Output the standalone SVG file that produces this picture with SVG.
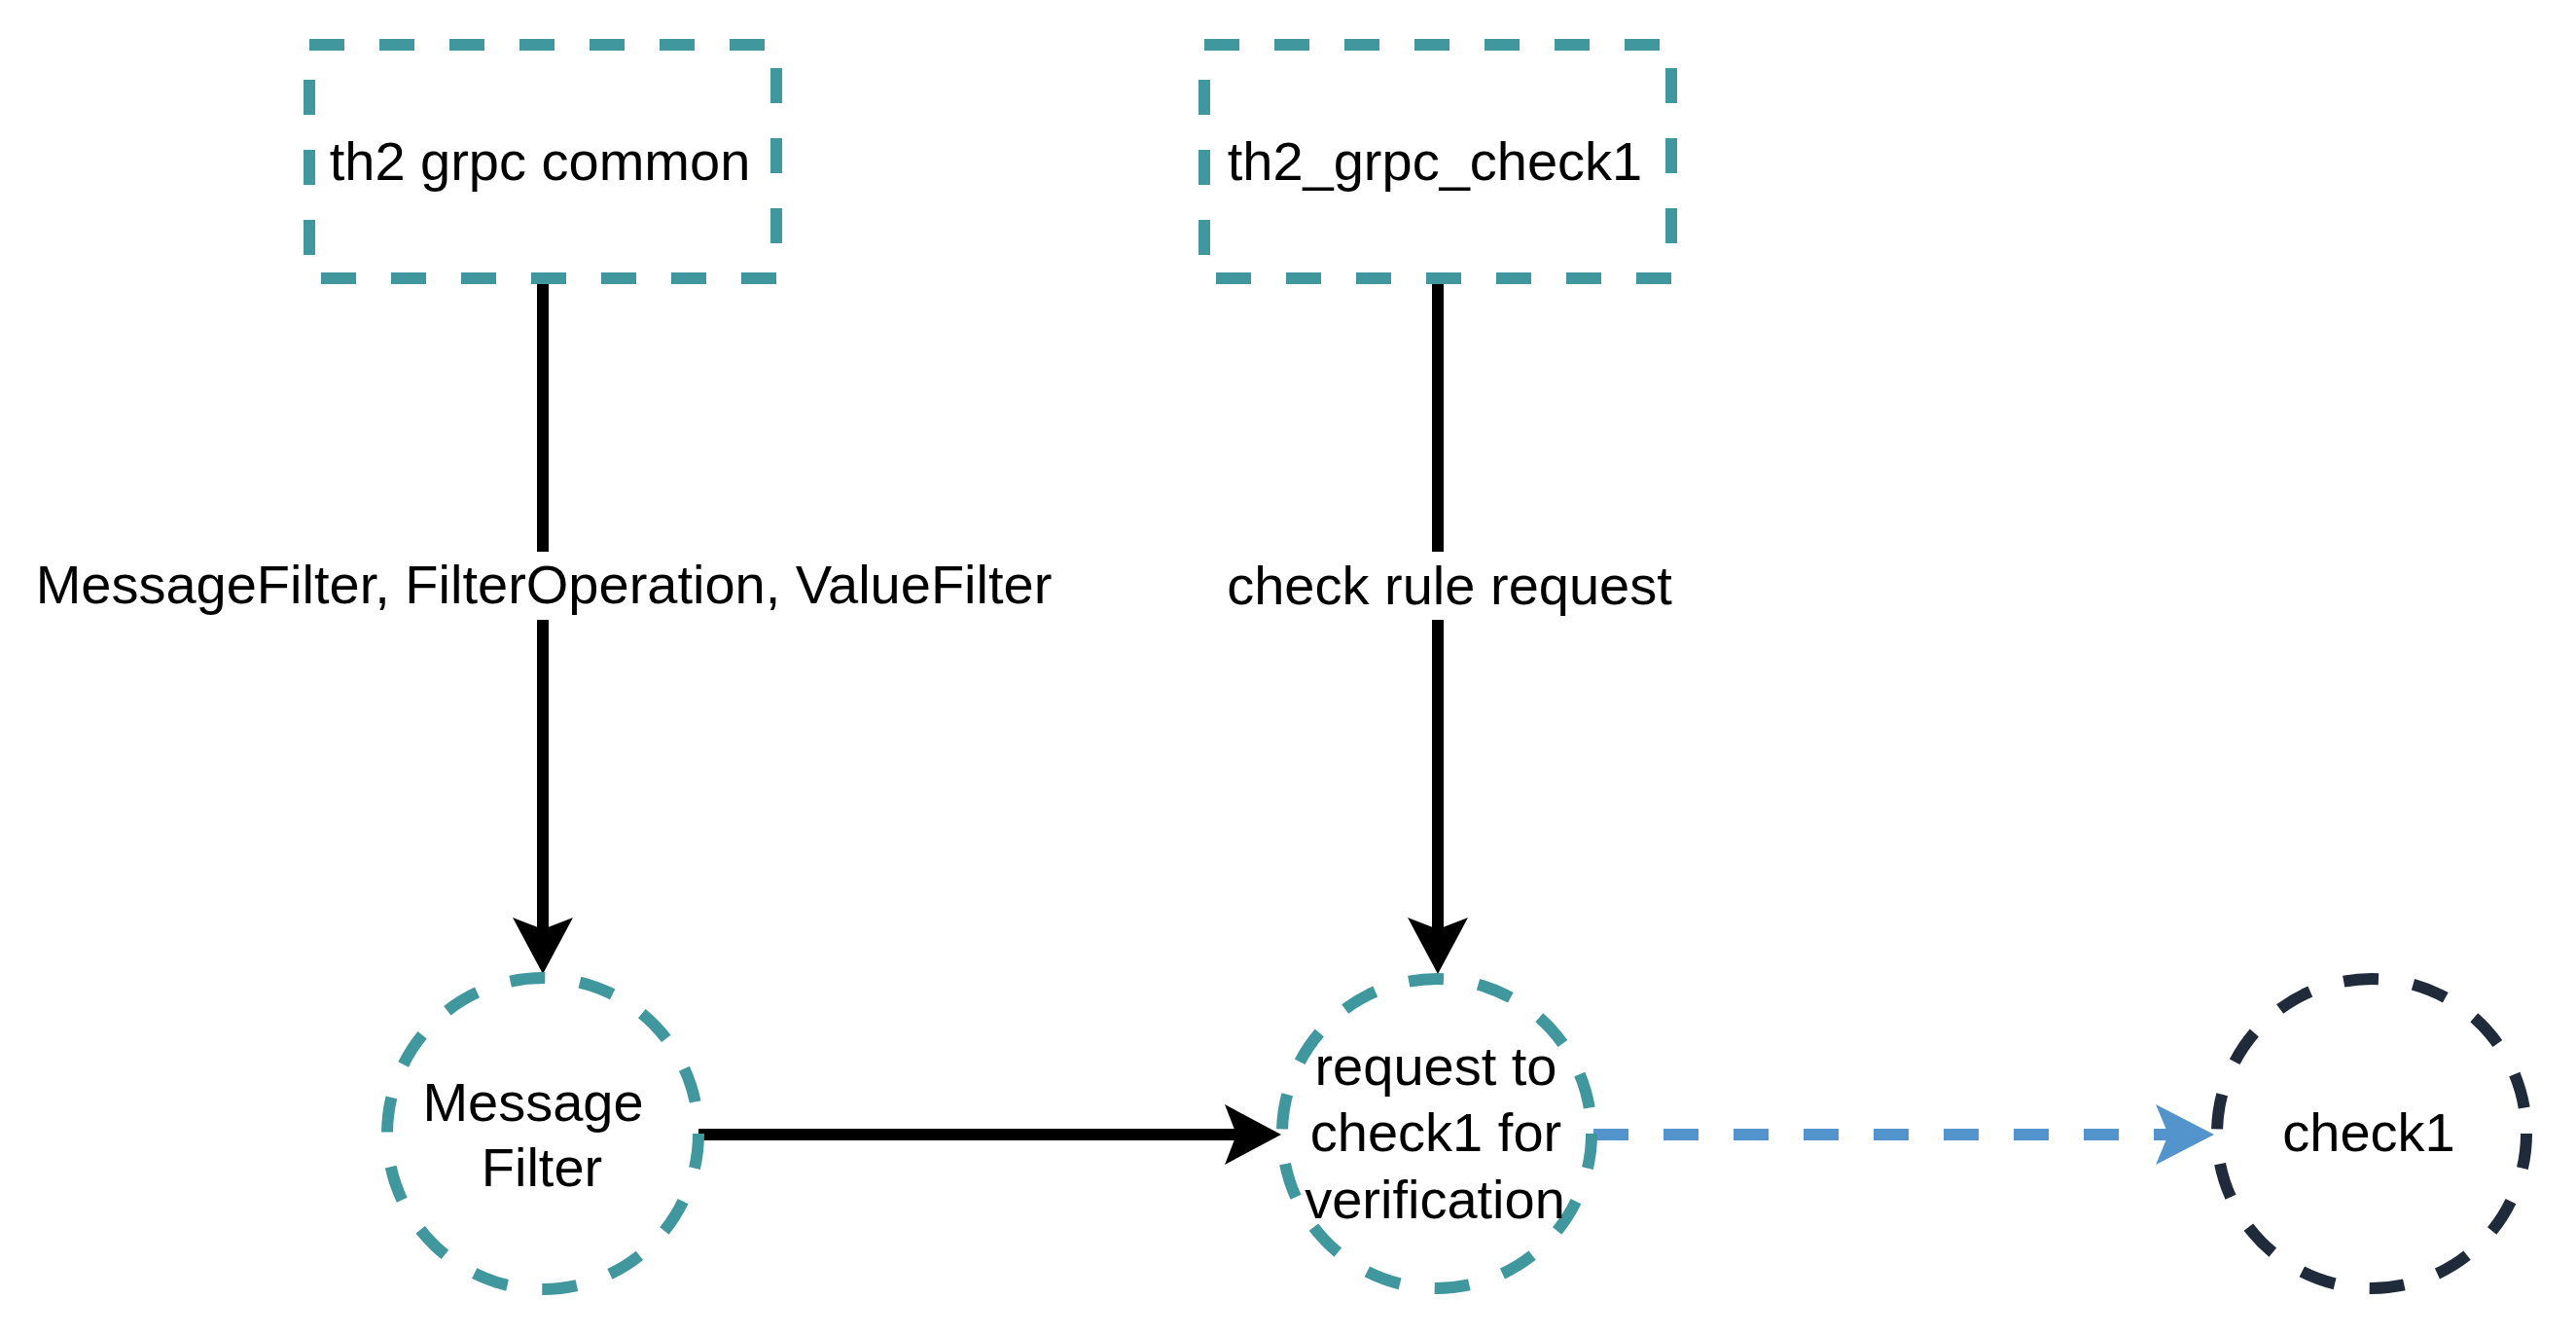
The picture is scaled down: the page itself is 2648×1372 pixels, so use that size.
<svg xmlns="http://www.w3.org/2000/svg" width="2648" height="1372" viewBox="0 0 2648 1372">
  <style>
    .box { fill: #ffffff; stroke: #41979e; stroke-width: 12; stroke-dasharray: 36 36; }
    .circ { fill: #ffffff; stroke: #41979e; stroke-width: 12; stroke-dasharray: 36 36; }
    .circ-dark { fill: #ffffff; stroke: #1f2a3a; stroke-width: 12; stroke-dasharray: 36 36; }
    .t { font-family: "Liberation Sans", Arial, Helvetica, sans-serif; font-size: 56px; fill: #000000; text-anchor: middle; }
    .edge { fill: none; stroke: #000000; stroke-width: 12; }
    .edge-blue { fill: none; stroke: #5294cb; stroke-width: 12; stroke-dasharray: 36 36; }
    .lblbg { fill: #ffffff; }
  </style>
  <defs>
    <marker id="arrow-black" markerUnits="userSpaceOnUse" markerWidth="60" markerHeight="64" viewBox="0 0 60 64" refX="12" refY="32" orient="auto">
      <path d="M0,1 L58,32 L0,63 L12,32 Z" fill="#000000"/>
    </marker>
    <marker id="arrow-blue" markerUnits="userSpaceOnUse" markerWidth="62" markerHeight="64" viewBox="0 0 62 64" refX="13" refY="32" orient="auto">
      <path d="M0,1 L60,32 L0,63 L13,32 Z" fill="#5294cb"/>
    </marker>
  </defs>
  <rect width="2648" height="1372" fill="#ffffff"/>

  <g id="connectors">
    <g id="edge-common-filter">
      <line class="edge" x1="558" y1="286" x2="558" y2="955" marker-end="url(#arrow-black)"/>
      <rect class="lblbg" x="38" y="567" width="1042" height="70"/>
      <text class="t" x="559" y="620">MessageFilter, FilterOperation, ValueFilter</text>
    </g>
    <g id="edge-check1grpc-request">
      <line class="edge" x1="1478" y1="286" x2="1478" y2="955" marker-end="url(#arrow-black)"/>
      <rect class="lblbg" x="1259" y="567" width="462" height="70"/>
      <text class="t" x="1490" y="621">check rule request</text>
    </g>
    <g id="edge-filter-request">
      <line class="edge" x1="718" y1="1166" x2="1271" y2="1166" marker-end="url(#arrow-black)"/>
    </g>
    <g id="edge-request-check1">
      <line class="edge-blue" x1="1638" y1="1166" x2="2229" y2="1166" marker-end="url(#arrow-blue)"/>
    </g>
  </g>

  <g id="node-th2-grpc-common">
    <rect class="box" x="318" y="46" width="480" height="240"/>
    <text class="t" x="555" y="185">th2 grpc common</text>
  </g>
  <g id="node-th2-grpc-check1">
    <rect class="box" x="1238" y="46" width="480" height="240"/>
    <text class="t" x="1475" y="185">th2_grpc_check1</text>
  </g>
  <g id="node-message-filter">
    <circle class="circ" cx="558" cy="1165" r="160"/>
    <text class="t" x="548" y="1152">Message</text>
    <text class="t" x="557" y="1219">Filter</text>
  </g>
  <g id="node-request">
    <circle class="circ" cx="1477" cy="1165" r="159"/>
    <text class="t" x="1476" y="1115">request to</text>
    <text class="t" x="1476" y="1183">check1 for</text>
    <text class="t" x="1475" y="1252">verification</text>
  </g>
  <g id="node-check1">
    <circle class="circ-dark" cx="2438" cy="1165" r="159"/>
    <text class="t" x="2435" y="1183">check1</text>
  </g>
</svg>
